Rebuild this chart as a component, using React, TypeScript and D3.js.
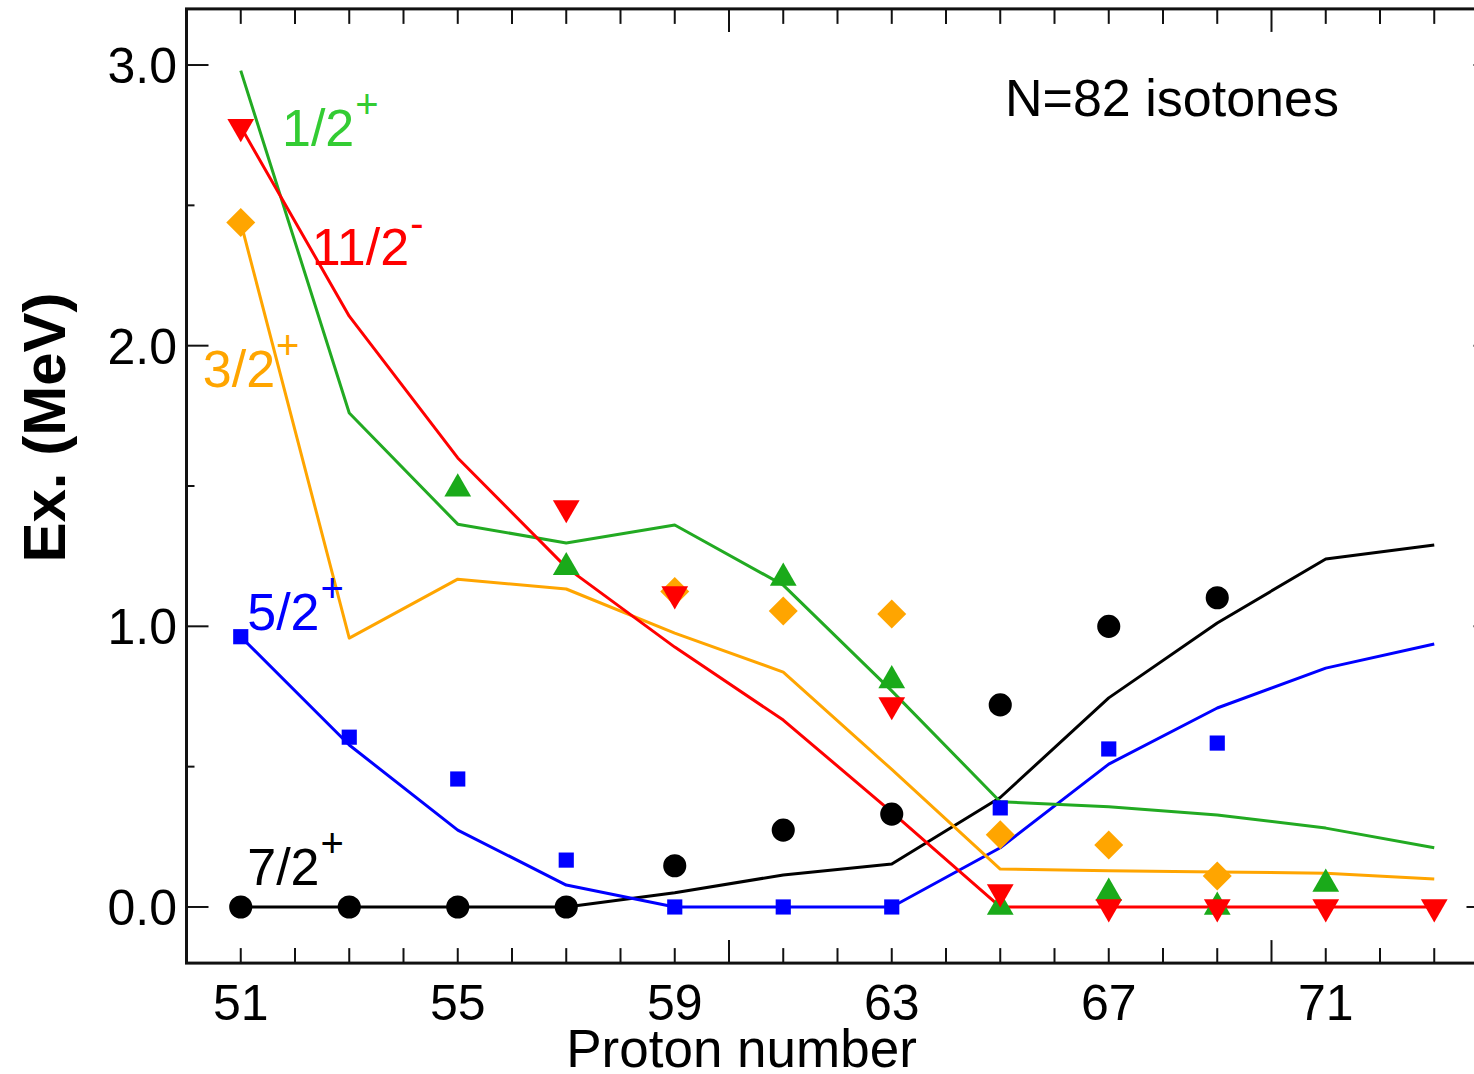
import React from 'react';
import * as d3 from 'd3';

// Proton numbers of the N=82 isotones (calculation)
const protonZ = [51, 53, 55, 57, 59, 61, 63, 65, 67, 69, 71, 73];

// Calculated excitation energies (MeV), lines
const calc72 = [0, 0, 0, 0, 0.051, 0.114, 0.153, 0.39, 0.745, 1.012, 1.24, 1.29];
const calc52 = [0.963, 0.577, 0.274, 0.078, 0, 0, 0, 0.211, 0.509, 0.709, 0.851, 0.937];
const calc32 = [2.439, 0.958, 1.168, 1.133, 0.976, 0.837, 0.49, 0.135, 0.129, 0.125, 0.12, 0.1];
const calc12 = [2.98, 1.76, 1.364, 1.297, 1.361, 1.147, 0.77, 0.375, 0.357, 0.328, 0.281, 0.211];
const calc112 = [2.78, 2.105, 1.6, 1.21, 0.926, 0.666, 0.338, 0, 0, 0, 0, 0];

// Experimental excitation energies (MeV), markers
const expZ72 = [51, 53, 55, 57, 59, 61, 63, 65, 67, 69];
const exp72 = [0, 0, 0, 0, 0.147, 0.274, 0.331, 0.72, 1.0, 1.102];
const expZ52 = [51, 53, 55, 57, 59, 61, 63, 65, 67, 69];
const exp52 = [0.963, 0.605, 0.456, 0.167, 0, 0, 0, 0.353, 0.563, 0.584];
const expZ12 = [55, 57, 61, 63, 65, 67, 69, 71];
const exp12 = [1.49, 1.21, 1.172, 0.807, 0, 0.05, 0, 0.082];
const expZ32 = [51, 59, 61, 63, 65, 67, 69];
const exp32 = [2.439, 1.124, 1.055, 1.044, 0.257, 0.221, 0.11];
const expZ112 = [51, 57, 59, 63, 65, 67, 69, 71, 73];
const exp112 = [2.78, 1.422, 1.115, 0.72, 0.053, 0, 0, 0, 0];

// Axis ticks
const xTickLabels = [51, 55, 59, 63, 67, 71];
const yTickLabels = ['0.0', '1.0', '2.0', '3.0'];

// State labels (spin-parity), placed in data coordinates
const stateNames = ['1/2', '11/2', '3/2', '5/2', '7/2'];
const stateParity = ['+', '-', '+', '+', '+'];
const labelZ = [51.76, 52.31, 50.3, 51.12, 51.12];
const labelE = [2.711, 2.287, 1.853, 0.987, 0.078];

const W = 1474;
const H = 1074;

export default function App() {
  const x = d3.scaleLinear().domain([50, 74]).range([186.5, 186.5 + 24 * 54.25]);
  const y = d3.scaleLinear().domain([-0.2, 3.2]).range([963.1, 8.9]);

  const font = "Arial, 'Liberation Sans', Helvetica, sans-serif";

  const series = [
    { calc: calc72, expZ: expZ72, exp: exp72, color: '#000000', mcolor: '#000000', shape: 'circle' },
    { calc: calc52, expZ: expZ52, exp: exp52, color: '#0000ff', mcolor: '#0000ff', shape: 'square' },
    { calc: calc32, expZ: expZ32, exp: exp32, color: '#ffa500', mcolor: '#ffa500', shape: 'diamond' },
    { calc: calc12, expZ: expZ12, exp: exp12, color: '#22aa22', mcolor: '#1aaa1a', shape: 'up' },
    { calc: calc112, expZ: expZ112, exp: exp112, color: '#ff0000', mcolor: '#ff0000', shape: 'down' },
  ];
  const markerOrder = [0, 1, 3, 2, 4];
  const labelColors = ['#33cc33', '#ff0000', '#ffa500', '#0000ff', '#000000'];

  const line = d3
    .line<number>()
    .x((_, i) => x(protonZ[i]))
    .y((d) => y(d));

  const sym = (shape: string) => {
    if (shape === 'circle') return d3.symbol(d3.symbolCircle, 420)();
    if (shape === 'square') return d3.symbol(d3.symbolSquare, 230)();
    if (shape === 'diamond') return d3.symbol(d3.symbolSquare, 420)();
    return d3.symbol(d3.symbolTriangle, 310)();
  };
  const rot = (shape: string) => (shape === 'diamond' ? 45 : shape === 'down' ? 180 : 0);

  const xMinor = d3.range(51, 74);
  const yMinor = d3.range(0, 3.01, 0.5);
  const x0 = x(50);
  const xR = x(74);
  const yB = y(-0.2);
  const yT = y(3.2);

  return (
    <svg
      width={W}
      height={H}
      style={{ position: 'absolute', left: 0, top: 0, background: '#fff' }}
      fontFamily={font}
    >
      <rect x={0} y={0} width={W} height={H} fill="#fff" />

      {/* ticks */}
      <g stroke="#111" strokeWidth={2}>
        {xMinor.map((z) => {
          const len = z % 10 === 0 ? 23 : 15;
          return (
            <g key={'xt' + z}>
              <line x1={x(z)} x2={x(z)} y1={yB} y2={yB - len} />
              <line x1={x(z)} x2={x(z)} y1={yT} y2={yT + len} />
            </g>
          );
        })}
        {yMinor.map((v) => {
          const major = Math.abs(v - Math.round(v)) < 1e-6;
          const len = major ? 22 : 8;
          const lenR = v === 0 ? 22 : major ? 15 : 8;
          return (
            <g key={'yt' + v}>
              <line x1={x0} x2={x0 + len} y1={y(v)} y2={y(v)} />
              <line x1={xR} x2={xR - lenR} y1={y(v)} y2={y(v)} />
            </g>
          );
        })}
      </g>

      {/* frame */}
      <rect x={x0} y={yT} width={xR - x0} height={yB - yT} fill="none" stroke="#111" strokeWidth={3} />

      {/* tick labels */}
      <g fontSize={50} fill="#000">
        {xTickLabels.map((z) => (
          <text key={'xl' + z} x={x(z)} y={1020} textAnchor="middle">
            {z}
          </text>
        ))}
        {yTickLabels.map((t) => (
          <text key={'yl' + t} x={177} y={y(+t) + 18} textAnchor="end">
            {t}
          </text>
        ))}
      </g>

      {/* axis titles */}
      <text x={741.5} y={1067} fontSize={53} textAnchor="middle" fill="#000">
        Proton number
      </text>
      <text
        transform={`translate(65, 427.5) rotate(-90)`}
        fontSize={60}
        fontWeight="bold"
        textAnchor="middle"
        fill="#000"
      >
        Ex. (MeV)
      </text>

      <text x={1005} y={116} fontSize={52} fill="#000">
        N=82 isotones
      </text>

      {/* calculation lines */}
      <g fill="none" strokeWidth={3} strokeLinejoin="round">
        {series.map((s, i) => (
          <path key={'l' + i} d={line(s.calc) || ''} stroke={s.color} />
        ))}
      </g>

      {/* experimental markers */}
      {markerOrder.map((si) => {
        const s = series[si];
        return (
          <g key={'m' + si} fill={s.mcolor}>
            {s.exp.map((e, j) => (
              <path
                key={j}
                d={sym(s.shape) || ''}
                transform={`translate(${x(s.expZ[j])},${y(e)}) rotate(${rot(s.shape)})`}
              />
            ))}
          </g>
        );
      })}

      {/* state labels */}
      {stateNames.map((n, i) => (
        <text key={'sl' + i} x={x(labelZ[i])} y={y(labelE[i])} fontSize={52} fill={labelColors[i]}>
          {n}
          <tspan fontSize={40} dy={-28} dx={1}>
            {stateParity[i]}
          </tspan>
        </text>
      ))}
    </svg>
  );
}
